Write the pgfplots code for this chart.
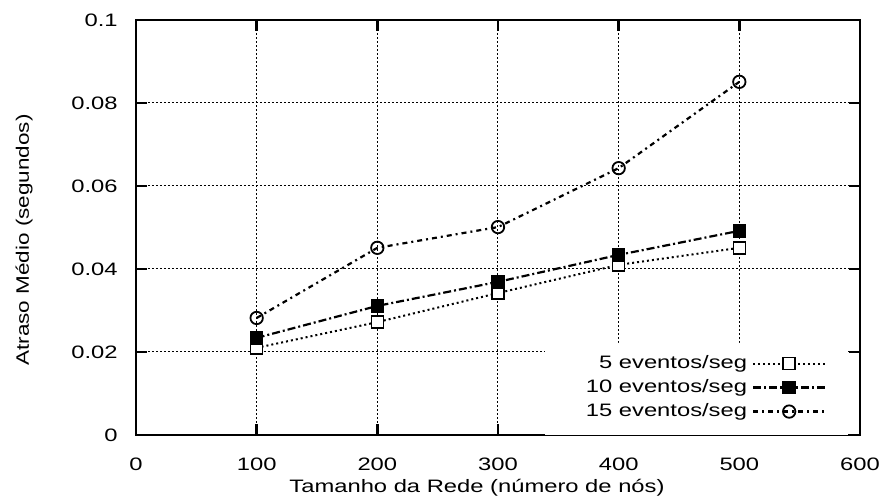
\documentclass[border=0pt]{standalone}
\usepackage{fontspec}
\setmainfont{Liberation Sans}[FakeStretch=1.32]
\newfontfamily\ylabfont{Liberation Sans}[FakeStretch=1.25]
\usepackage{pgfplots}
\pgfplotsset{compat=1.18}
\begin{document}
\fontsize{9}{10.8}\selectfont
\begin{tikzpicture}
\begin{axis}[
  at={(0pt,0pt)}, anchor=south west,
  scale only axis,
  width=362pt, height=207.5pt,
  xmin=0, xmax=600, ymin=0, ymax=0.1,
  xtick={0,100,200,300,400,500,600},
  xticklabels={0,100,200,300,400,500,600},
  ytick={0,0.02,0.04,0.06,0.08,0.1},
  yticklabels={0,0.02,0.04,0.06,0.08,0.1},
  tick pos=both, tick align=inside,
  major tick length=5.5pt,
  every tick/.style={black, line width=1.4pt},
  axis line style={line width=1.4pt},
  grid=major,
  major grid style={black, line width=0.5pt, dash pattern=on 1pt off 1pt},
  yticklabel style={anchor=east, inner sep=0pt, xshift=-9pt},
  xticklabel style={anchor=north, inner sep=0pt, yshift=-11.5pt},
  xlabel={Tamanho da Rede (número de nós)},
  xlabel style={at={(axis description cs:0.471,0)}, anchor=base, yshift=-29pt, inner sep=0pt},
  ylabel={\ylabfont Atraso Médio (segundos)},
  ylabel style={at={(axis description cs:0,0.47)}, anchor=center, rotate=0, yshift=56pt, inner sep=0pt},
  legend cell align=right,
  legend plot pos=right,
  legend style={at={(axis description cs:0.954,0.035)}, anchor=south east,
    draw=none, fill=none, inner sep=0pt, column sep=2.5pt, row sep=3.5pt,
    nodes={inner sep=0pt, text height=6.5pt, text depth=2pt}},
  legend image code/.code={\draw[mark repeat=2,mark phase=2,#1] plot coordinates {(0pt,0pt) (18pt,0pt) (36pt,0pt)};},
]
\addplot[draw=none, fill=white, forget plot]
  coordinates {(339,0.003) (339,0.0222) (590,0.0222) (590,0.003)} \closedcycle;
\addplot[black, line width=1pt, dash pattern=on 1pt off 1.5pt, mark=square*, mark size=3pt,
  mark options={solid, fill=white, line width=0.7pt}]
  coordinates {(100,0.021) (200,0.0272) (300,0.0342) (400,0.041) (500,0.0451)};
\addlegendentry{5 eventos/seg}
\addplot[black, line width=1.1pt, dash pattern=on 4pt off 1.5pt on 1pt off 1.5pt, mark=square*, mark size=3pt,
  mark options={solid, fill=black, line width=0.7pt}]
  coordinates {(100,0.0234) (200,0.0311) (300,0.0369) (400,0.0434) (500,0.0492)};
\addlegendentry{10 eventos/seg}
\addplot[black, line width=1.1pt, dash pattern=on 2.5pt off 2pt on 1pt off 2pt, mark=o, mark size=3.1pt,
  mark options={solid, fill=white, line width=0.9pt}]
  coordinates {(100,0.0282) (200,0.0451) (300,0.0501) (400,0.0643) (500,0.0851)};
\addlegendentry{15 eventos/seg}
\end{axis}
\pgfresetboundingbox
\useasboundingbox (-68pt,-34pt) rectangle (374.5pt,217.5pt);
\end{tikzpicture}
\end{document}
